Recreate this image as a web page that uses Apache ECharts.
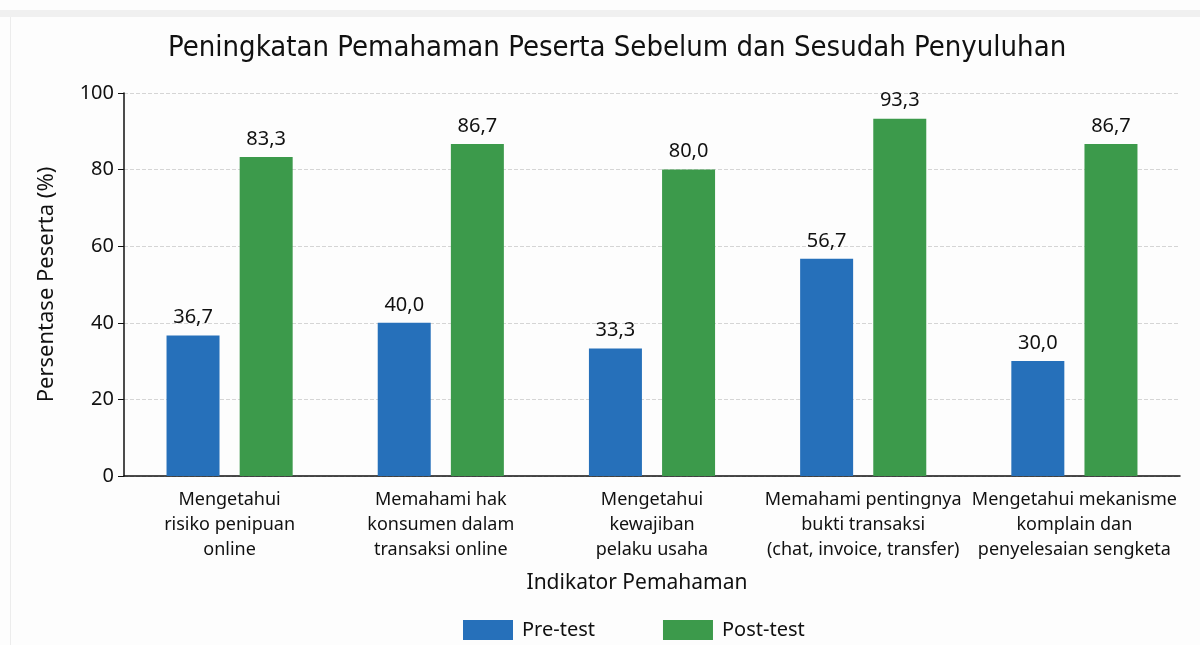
<!DOCTYPE html>
<html>
<head>
<meta charset="utf-8">
<style>
  html, body { margin: 0; padding: 0; background: #fff; }
  #chart { width: 1200px; height: 645px; }
</style>
<script src="https://cdn.jsdelivr.net/npm/echarts@6/dist/echarts.min.js"></script>
</head>
<body>
<div id="chart"></div>
<script>
// data
const categories = [
  'Mengetahui\nrisiko penipuan\nonline',
  'Memahami hak\nkonsumen dalam\ntransaksi online',
  'Mengetahui\nkewajiban\npelaku usaha',
  'Memahami pentingnya\nbukti transaksi\n(chat, invoice, transfer)',
  'Mengetahui mekanisme\nkomplain dan\npenyelesaian sengketa'
]
const preTest = [36.7, 40.0, 33.3, 56.7, 30.0]
const postTest = [83.3, 86.7, 80.0, 93.3, 86.7]
const seriesNames = ['Pre-test', 'Post-test']

const font = 'Noto Sans'
const fmt = v => v.toFixed(1).replace('.', ',')

const chart = echarts.init(document.getElementById('chart'))

const barSeries = (name, data, color) => ({
  name,
  type: 'bar',
  data,
  barWidth: 53,
  barGap: '38%',
  itemStyle: { color },
  label: {
    show: true,
    position: 'top',
    distance: 8,
    fontFamily: font,
    fontSize: 20,
    color: '#111',
    formatter: p => fmt(p.value)
  }
})

chart.setOption({
  backgroundColor: '#fdfdfd',
  animation: false,
  // thin frame like the screenshot
  graphic: [
    { type: 'rect', shape: { x: 0, y: 10, width: 1200, height: 7 }, style: { fill: '#f0f0f0' } },
    { type: 'rect', shape: { x: 10, y: 17, width: 1, height: 628 }, style: { fill: '#ececec' } }
  ],
  title: {
    text: 'Peningkatan Pemahaman Peserta Sebelum dan Sesudah Penyuluhan',
    left: 163,
    top: 29,
    textStyle: {
      fontFamily: 'DejaVu Sans Condensed',
      fontSize: 29,
      fontWeight: 'normal',
      color: '#111'
    }
  },
  legend: {
    data: seriesNames,
    bottom: 0,
    left: 458,
    itemWidth: 50,
    itemHeight: 20,
    itemGap: 68,
    icon: 'rect',
    textStyle: { fontFamily: font, fontSize: 20, color: '#111', padding: [0, 0, 0, 4] }
  },
  grid: {
    left: 124,
    right: 20,
    top: 93,
    bottom: 169
  },
  xAxis: {
    type: 'category',
    data: categories,
    name: 'Indikator Pemahaman',
    nameLocation: 'middle',
    nameGap: 97,
    nameTextStyle: { fontFamily: font, fontSize: 21, color: '#111', padding: [0, 30, 0, 0] },
    axisLine: { lineStyle: { color: '#111', width: 1.5 } },
    axisTick: { show: false },
    axisLabel: {
      interval: 0,
      margin: 11,
      fontFamily: font,
      fontSize: 18,
      lineHeight: 25,
      color: '#111'
    }
  },
  yAxis: {
    type: 'value',
    min: 0,
    max: 100,
    interval: 20,
    name: 'Persentase Peserta (%)',
    nameLocation: 'middle',
    nameGap: 66,
    nameTextStyle: { fontFamily: font, fontSize: 22, color: '#111' },
    axisLine: { show: true, lineStyle: { color: '#111', width: 1.5 } },
    axisTick: { show: true, length: 6, lineStyle: { color: '#111' } },
    axisLabel: { fontFamily: font, fontSize: 20, color: '#111', margin: 10 },
    splitLine: { lineStyle: { type: 'dashed', color: '#d5d5d5' } }
  },
  series: [
    barSeries(seriesNames[0], preTest, '#2670ba'),
    barSeries(seriesNames[1], postTest, '#3c9a4b')
  ]
})
</script>
</body>
</html>
